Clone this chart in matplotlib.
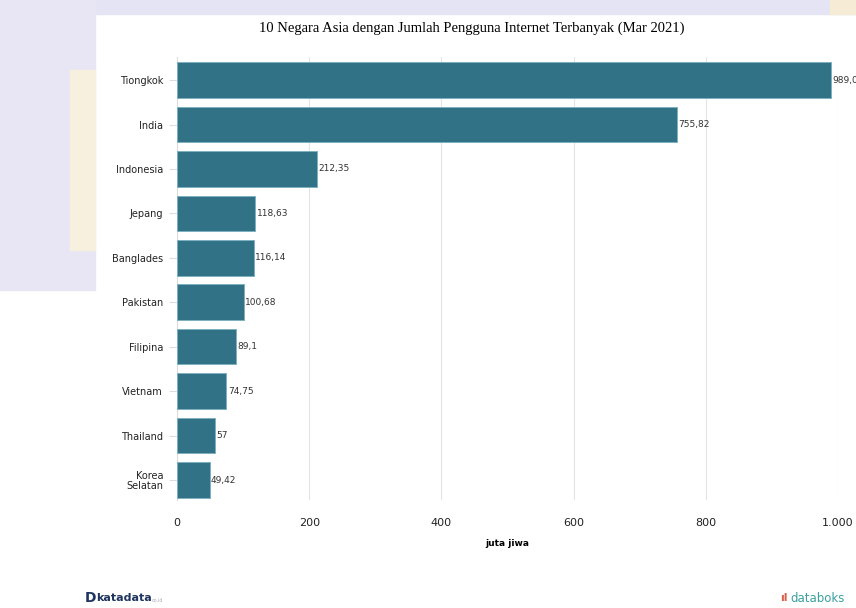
import matplotlib.pyplot as plt
from matplotlib.patches import Rectangle

# data
negara = ['Tiongkok', 'India', 'Indonesia', 'Jepang', 'Banglades', 'Pakistan',
          'Filipina', 'Vietnam', 'Thailand', 'Korea\nSelatan']
pengguna = [989.0, 755.82, 212.35, 118.63, 116.14, 100.68, 89.1, 74.75, 57, 49.42]
label_nilai = ['989,0', '755,82', '212,35', '118,63', '116,14', '100,68',
               '89,1', '74,75', '57', '49,42']
xticks = [0, 200, 400, 600, 800, 1000]
xtick_labels = ['0', '200', '400', '600', '800', '1.000']

W, H = 856, 608
fig = plt.figure(figsize=(W / 100, H / 100), dpi=100, facecolor='white')

# soft watermark behind the chart panel
fig.patches.append(Rectangle((0, 1 - 14 / H), 1, 14 / H, transform=fig.transFigure,
                             color='#e4e4f4', zorder=0))
fig.patches.append(Rectangle((0, 1 - 290 / H), 95 / W, 290 / H, transform=fig.transFigure,
                             color='#e8e6f4', zorder=0))
fig.patches.append(Rectangle((70 / W, 1 - 250 / H), 25 / W, 180 / H, transform=fig.transFigure,
                             color='#f8f0de', zorder=0))
fig.patches.append(Rectangle((830 / W, 1 - 14 / H), 26 / W, 14 / H, transform=fig.transFigure,
                             color='#f6ecd6', zorder=0))

ax = fig.add_axes([177 / W, 1 - 500 / H, 661 / W, 443 / H])
ax.set_facecolor('none')

ypos = list(range(len(negara)))
ax.barh(ypos, pengguna, height=0.8, color='#327286', edgecolor='#7fb0bf',
        linewidth=0.7, zorder=3)
for y, v, s in zip(ypos, pengguna, label_nilai):
    ax.text(v + 2, y, s, va='center', ha='left', fontsize=6.5, color='#333333',
            clip_on=False, zorder=4)

ax.set_xlim(0, 1000)
ax.set_ylim(9.45, -0.52)
ax.set_yticks(ypos)
ax.set_yticklabels(negara, fontsize=7, color='#222222', linespacing=0.95)
ax.set_xticks(xticks)
ax.set_xticklabels(xtick_labels, fontsize=8, color='#222222')
ax.tick_params(axis='y', length=6, color='#dddddd', pad=4)
ax.tick_params(axis='x', length=0, pad=13)
ax.grid(axis='x', color='#e4e4e4', linewidth=0.8, zorder=0)
for side in ['top', 'right', 'bottom']:
    ax.spines[side].set_visible(False)
ax.spines['left'].set_color('#dddddd')
ax.set_xlabel('juta jiwa', fontsize=6.5, fontweight='bold', labelpad=8)

fig.text(472 / W, 1 - 28 / H,
         '10 Negara Asia dengan Jumlah Pengguna Internet Terbanyak (Mar 2021)',
         ha='center', va='center', fontsize=10.5, family='Liberation Serif')

# logos as text
fig.text(85 / W, 1 - 598 / H, 'D', fontsize=10, fontweight='bold', color='#1f3560',
         va='center', ha='left')
fig.text(96 / W, 1 - 598 / H, 'katadata', fontsize=8, fontweight='bold', color='#1f3560',
         va='center', ha='left')
fig.text(152 / W, 1 - 600 / H, 'co.id', fontsize=3.5, color='#aab0c0', va='center', ha='left')
fig.text(780 / W, 1 - 598 / H, 'ıl', fontsize=8, fontweight='bold', color='#d9614c',
         va='center', ha='left')
fig.text(790 / W, 1 - 598 / H, 'databoks', fontsize=8.5, color='#3aa0a0',
         va='center', ha='left')

fig.savefig('out.png', dpi=100, facecolor=fig.get_facecolor())
